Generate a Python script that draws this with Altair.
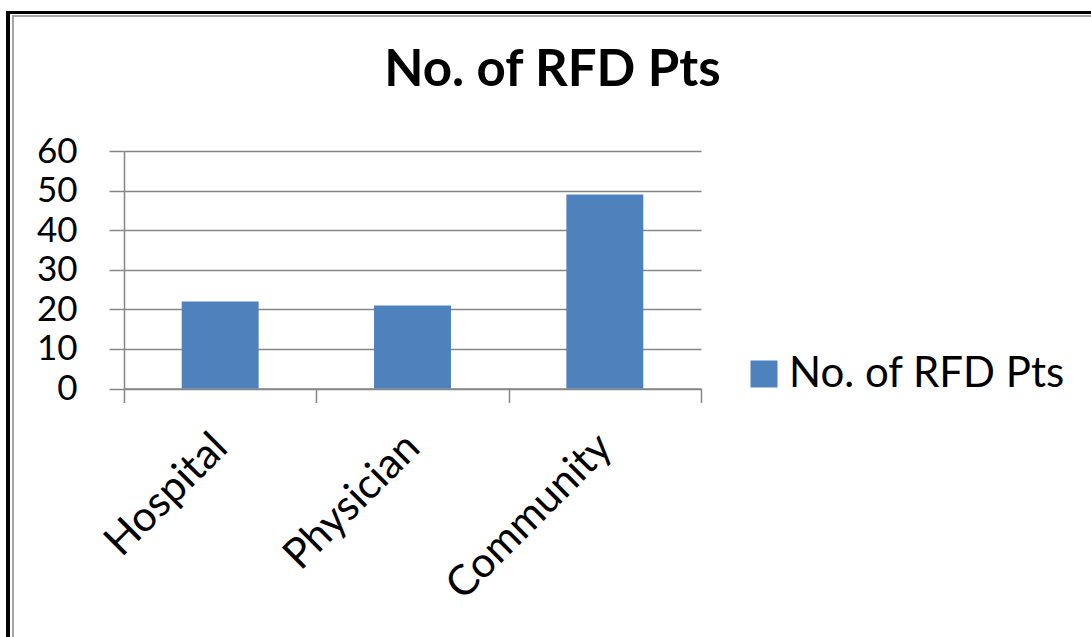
import altair as alt
import pandas as pd

# Chart values
categories = ["Hospital", "Physician", "Community"]
patients = [22, 21, 49]
series_name = "No. of RFD Pts"
y_ticks = [0, 10, 20, 30, 40, 50, 60]

BAR_BLUE = "#4F81BD"
AXIS_GRAY = "#868686"
FONT = "Lato"

df = pd.DataFrame({
    "source": categories,
    "count": patients,
    "series": [series_name] * len(categories),
})

PLOT_W, PLOT_H = 577, 237.5
PAD_L, PAD_T = 124, 151
TOTAL_W, TOTAL_H = 1091, 637

bars = alt.Chart(df).mark_bar(color=BAR_BLUE, width=alt.RelativeBandSize(0.4)).encode(
    x=alt.X(
        "source:N",
        sort=categories,
        title=None,
        scale=alt.Scale(paddingInner=0, paddingOuter=0),
        axis=alt.Axis(
            labelAngle=-45,
            labelAlign="right",
            labelBaseline="alphabetic",
            labelFontSize=42,
            labelFont=FONT,
            labelColor="black",
            labelLimit=0,
            labelPadding=47,
            labelOffset=9,
            tickBand="extent",
            tickSize=14,
            tickColor=AXIS_GRAY,
            tickWidth=1.5,
            domainColor=AXIS_GRAY,
            domainWidth=1.5,
            grid=False,
        ),
    ),
    y=alt.Y(
        "count:Q",
        title=None,
        scale=alt.Scale(domain=[0, 60], nice=False),
        axis=alt.Axis(
            values=y_ticks,
            labelFontSize=35,
            labelFont=FONT,
            labelColor="black",
            labelPadding=32,
            tickSize=15,
            tickColor=AXIS_GRAY,
            tickWidth=1.5,
            domainColor=AXIS_GRAY,
            domainWidth=1.5,
            grid=True,
            gridColor=AXIS_GRAY,
            gridWidth=1.5,
        ),
    ),
    color=alt.Color(
        "series:N",
        scale=alt.Scale(range=[BAR_BLUE]),
        legend=alt.Legend(
            title=None,
            orient="none",
            legendX=619,
            legendY=202,
            symbolType="square",
            symbolSize=729,
            symbolStrokeWidth=0,
            labelFontSize=42,
            labelFont=FONT,
            labelColor="black",
            labelLimit=0,
            labelOffset=4,
        ),
    ),
)

# Page frame: heavy black rule on the left and top, thin gray rule inside it
frame_left = alt.Chart(df).mark_rule(color="black", strokeWidth=4).encode(
    x=alt.value(8 - PAD_L), y=alt.value(11 - PAD_T), y2=alt.value(TOTAL_H - PAD_T + 10)
)
frame_top = alt.Chart(df).mark_rule(color="black", strokeWidth=3).encode(
    y=alt.value(12.5 - PAD_T), x=alt.value(6 - PAD_L), x2=alt.value(TOTAL_W - PAD_L + 10)
)
inner_left = alt.Chart(df).mark_rule(color="#a6a6a6", strokeWidth=2).encode(
    x=alt.value(13 - PAD_L), y=alt.value(15 - PAD_T), y2=alt.value(TOTAL_H - PAD_T + 10)
)
inner_top = alt.Chart(df).mark_rule(color="#a6a6a6", strokeWidth=2).encode(
    y=alt.value(16 - PAD_T), x=alt.value(12 - PAD_L), x2=alt.value(TOTAL_W - PAD_L + 10)
)

chart = alt.layer(bars, frame_left, frame_top, inner_left, inner_top).properties(
    width=PLOT_W,
    height=PLOT_H,
    autosize=alt.AutoSizeParams(type="none"),
    padding={"left": PAD_L, "top": PAD_T, "right": TOTAL_W - PAD_L - PLOT_W,
             "bottom": TOTAL_H - PAD_T - PLOT_H},
    background="white",
    title=alt.TitleParams(
        text=series_name,
        font=FONT,
        fontSize=51,
        fontWeight="bold",
        color="black",
        anchor="middle",
        frame="group",
        dx=140,
        baseline="alphabetic",
        offset=0,
        dy=128,
    ),
).configure_view(stroke=None)

chart.save("out.html", embed_options={"renderer": "svg", "actions": False})
